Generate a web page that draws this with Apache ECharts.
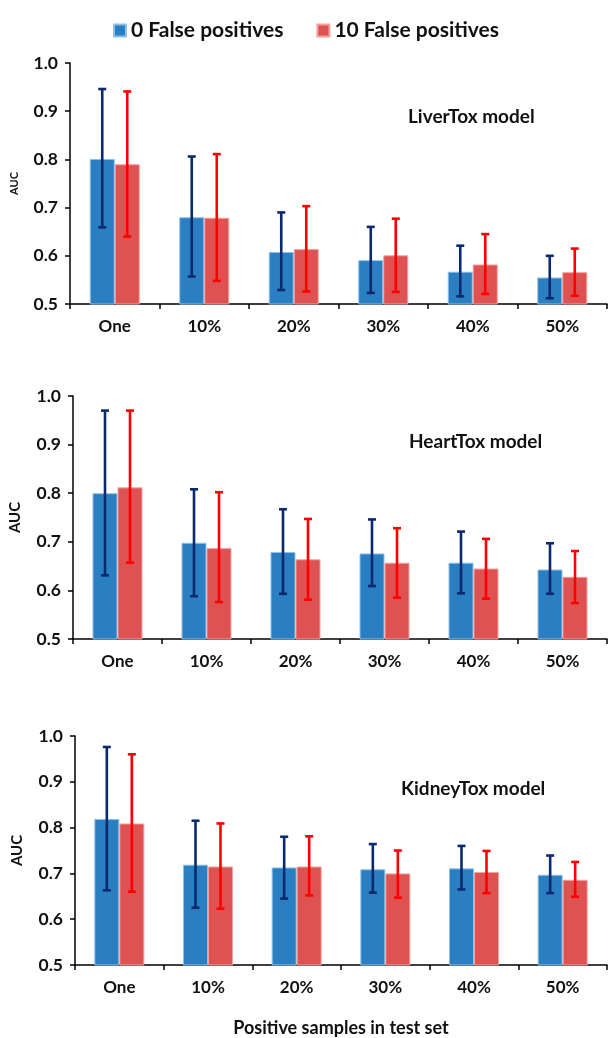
<!DOCTYPE html>
<html>
<head>
<meta charset="utf-8">
<script src="https://cdn.jsdelivr.net/npm/echarts@6/dist/echarts.min.js"></script>
<style>html,body{margin:0;padding:0;background:#fff;}#chart{width:612px;height:1038px;}</style>
</head>
<body>
<div id="chart"></div>
<script>
const categories = ['One', '10%', '20%', '30%', '40%', '50%'];
const seriesNames = ['0 False positives', '10 False positives'];
const panelTitles = ['LiverTox model', 'HeartTox model', 'KidneyTox model'];
const yTicks = [0.5, 0.6, 0.7, 0.8, 0.9, 1.0];

const liverFP0 = [0.801, 0.680, 0.608, 0.591, 0.567, 0.555];
const liverFP0Low = [0.659, 0.557, 0.529, 0.523, 0.516, 0.512];
const liverFP0High = [0.946, 0.806, 0.690, 0.660, 0.621, 0.600];
const liverFP10 = [0.790, 0.679, 0.614, 0.601, 0.582, 0.566];
const liverFP10Low = [0.640, 0.548, 0.526, 0.525, 0.521, 0.517];
const liverFP10High = [0.941, 0.811, 0.703, 0.677, 0.645, 0.615];

const heartFP0 = [0.800, 0.698, 0.679, 0.676, 0.657, 0.643];
const heartFP0Low = [0.631, 0.588, 0.593, 0.609, 0.594, 0.593];
const heartFP0High = [0.970, 0.808, 0.767, 0.746, 0.721, 0.697];
const heartFP10 = [0.812, 0.687, 0.664, 0.657, 0.645, 0.628];
const heartFP10Low = [0.657, 0.576, 0.581, 0.585, 0.583, 0.574];
const heartFP10High = [0.970, 0.802, 0.747, 0.728, 0.706, 0.681];

const kidneyFP0 = [0.819, 0.719, 0.713, 0.709, 0.711, 0.697];
const kidneyFP0Low = [0.663, 0.625, 0.645, 0.658, 0.665, 0.657];
const kidneyFP0High = [0.976, 0.815, 0.780, 0.764, 0.760, 0.739];
const kidneyFP10 = [0.809, 0.715, 0.715, 0.700, 0.703, 0.686];
const kidneyFP10Low = [0.660, 0.623, 0.652, 0.647, 0.657, 0.649];
const kidneyFP10High = [0.960, 0.809, 0.781, 0.750, 0.749, 0.725];

const panels = [
  {fp0: liverFP0, fp0Low: liverFP0Low, fp0High: liverFP0High, fp10: liverFP10, fp10Low: liverFP10Low, fp10High: liverFP10High},
  {fp0: heartFP0, fp0Low: heartFP0Low, fp0High: heartFP0High, fp10: heartFP10, fp10Low: heartFP10Low, fp10High: heartFP10High},
  {fp0: kidneyFP0, fp0Low: kidneyFP0Low, fp0High: kidneyFP0High, fp10: kidneyFP10, fp10Low: kidneyFP10Low, fp10High: kidneyFP10High}
];

const FONT = 'Lato';
const BAR_W = 25;
const grids = [
  {left: 70, right: 5, top: 63, height: 241},
  {left: 73, right: 5, top: 396, height: 243},
  {left: 75, right: 5, top: 736, height: 242}
];
const titlePos = [{left: 403, top: 102}, {left: 404, top: 427}, {left: 396, top: 774}];
const aucSize = [11, 15, 15];

function errRender(offset, color) {
  return function (params, api) {
    const x = api.value(0);
    const lo = api.coord([x, api.value(1)]);
    const hi = api.coord([x, api.value(2)]);
    const cx = lo[0] + offset;
    const cap = 4;
    const st = {stroke: color, lineWidth: 2.6};
    return {
      type: 'group',
      children: [
        {type: 'line', shape: {x1: cx, y1: hi[1], x2: cx, y2: lo[1]}, style: st},
        {type: 'line', shape: {x1: cx - cap, y1: hi[1], x2: cx + cap, y2: hi[1]}, style: st},
        {type: 'line', shape: {x1: cx - cap, y1: lo[1], x2: cx + cap, y2: lo[1]}, style: st}
      ]
    };
  };
}

const option = {
  animation: false,
  backgroundColor: '#ffffff',
  textStyle: {fontFamily: FONT},
  legend: {
    data: seriesNames,
    top: 15,
    left: 'center',
    itemWidth: 12,
    itemHeight: 12,
    itemGap: 33,
    icon: 'rect',
    textStyle: {fontFamily: FONT, fontSize: 21, fontWeight: 'bold', color: '#111'}
  },
  title: panelTitles.map((t, i) => ({
    text: t, left: titlePos[i].left, top: titlePos[i].top,
    textStyle: {fontFamily: FONT, fontSize: 19, fontWeight: 'bold', color: '#111'}
  })),
  grid: grids,
  xAxis: grids.map((g, i) => ({
    type: 'category', gridIndex: i, data: categories,
    axisLine: {lineStyle: {color: '#000', width: 1.5}},
    axisTick: {show: true, length: 5, lineStyle: {color: '#000', width: 1.5}},
    axisLabel: {color: '#111', fontSize: 17, fontWeight: 'bold', margin: 14, fontFamily: FONT},
    name: i === 2 ? 'Positive samples in test set' : '',
    nameLocation: 'middle', nameGap: 54,
    nameTextStyle: {fontSize: 18, color: '#111', fontFamily: FONT, fontWeight: 'bold'}
  })),
  yAxis: grids.map((g, i) => ({
    type: 'value', gridIndex: i, min: yTicks[0], max: yTicks[yTicks.length - 1], interval: 0.1,
    splitLine: {show: false},
    axisLine: {show: true, lineStyle: {color: '#000', width: 1.5}},
    axisTick: {show: true, length: 5, lineStyle: {color: '#000', width: 1.5}},
    axisLabel: {color: '#111', fontSize: 17.5, fontWeight: 'bold', margin: 12, fontFamily: FONT,
      formatter: v => v.toFixed(1)},
    name: 'AUC', nameLocation: 'middle', nameRotate: 90, nameGap: 50,
    nameTextStyle: {fontSize: aucSize[i], fontWeight: 'bold', color: '#111', fontFamily: FONT}
  })),
  series: []
};

panels.forEach((p, i) => {
  option.series.push({
    name: seriesNames[0], type: 'bar', xAxisIndex: i, yAxisIndex: i, data: p.fp0,
    barWidth: BAR_W, barGap: '0%',
    itemStyle: {color: '#2A7FC3', borderColor: '#8FC0E8', borderWidth: 1}
  });
  option.series.push({
    name: seriesNames[1], type: 'bar', xAxisIndex: i, yAxisIndex: i, data: p.fp10,
    barWidth: BAR_W, barGap: '0%',
    itemStyle: {color: '#DE5252', borderColor: '#F2A0A0', borderWidth: 1}
  });
  option.series.push({
    type: 'custom', xAxisIndex: i, yAxisIndex: i, z: 5,
    renderItem: errRender(-BAR_W / 2, '#0B2A6E'),
    encode: {x: 0, y: [1, 2]},
    data: categories.map((c, k) => [k, p.fp0Low[k], p.fp0High[k]])
  });
  option.series.push({
    type: 'custom', xAxisIndex: i, yAxisIndex: i, z: 5,
    renderItem: errRender(BAR_W / 2, '#FF0000'),
    encode: {x: 0, y: [1, 2]},
    data: categories.map((c, k) => [k, p.fp10Low[k], p.fp10High[k]])
  });
});

const chart = echarts.init(document.getElementById('chart'), null, {renderer: 'canvas'});
chart.setOption(option);
</script>
</body>
</html>
